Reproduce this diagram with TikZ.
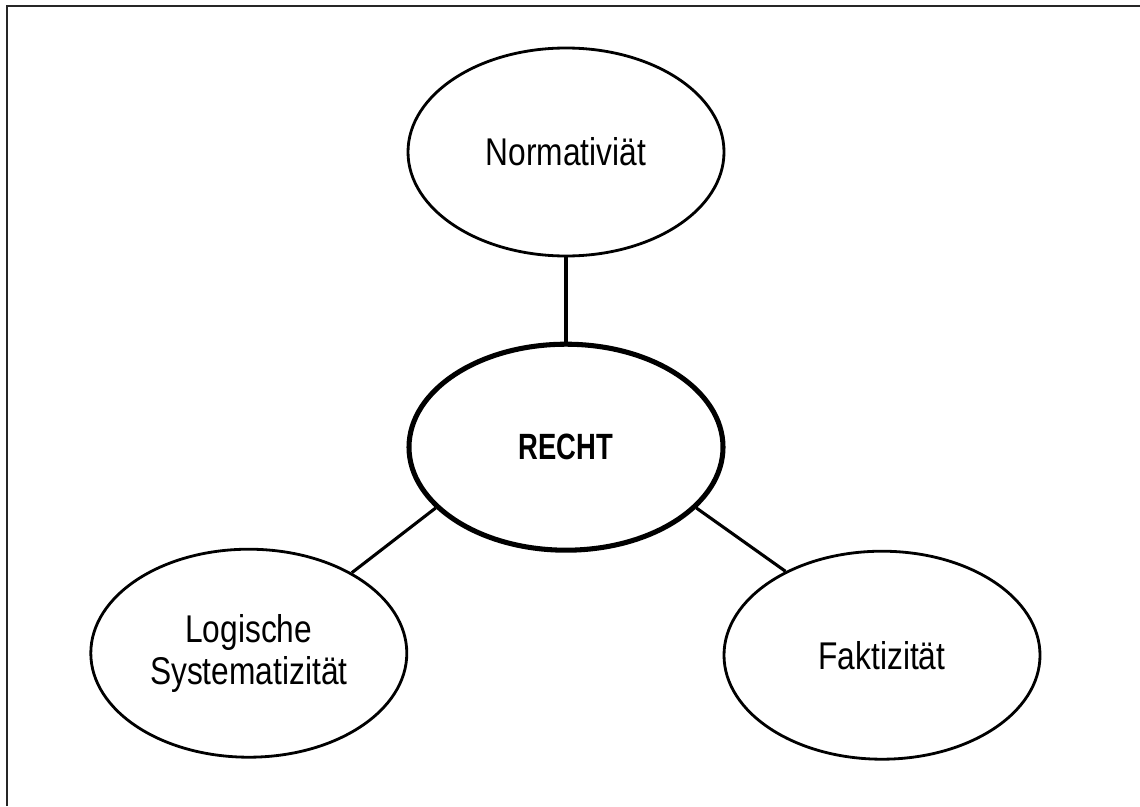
\documentclass[tikz,border=0pt]{standalone}
\usepackage{fontspec}
\setmainfont{Liberation Sans}[FakeStretch=0.82, BoldFeatures={FakeStretch=0.75}]
\usetikzlibrary{shapes.geometric}

\begin{document}
\begin{tikzpicture}[
    topic/.style={ellipse, draw, line width=2pt, minimum width=7.9cm, minimum height=5.2cm,
        inner sep=0pt, align=center, font=\fontsize{27.5}{30}\selectfont},
    core/.style={ellipse, draw, line width=3.6pt, minimum width=7.85cm, minimum height=5.15cm,
        inner sep=0pt, font=\fontsize{26}{30}\selectfont\bfseries},
    link/.style={line width=2.2pt}
]
    %% define points
    \def\W{28.5};
    \def\H{20.15};
    \def\Mx{14.15};
    
    %% frame
    \useasboundingbox (0,0) rectangle (\W,-\H);
    \draw[line width=2.1pt, black!85] (0.175,-\H) -- (0.175,-0.15) -- (\W,-0.15);
    
    %% ellipses
    \node[topic] (norm) at (\Mx,-3.8) {Normativiät};
    \node[core] (recht) at (\Mx,-11.18) {RECHT};
    \node[topic] (logik) at (6.22,-16.33) {Logische\\Systematizität};
    \node[topic] (fakt) at (22.05,-16.38) {Faktizität};
    
    %% connectors
    \draw[link] (norm.south) -- (recht.north);
    \draw[link] (recht.205.7) -- (logik.38.7);
    \draw[link] (recht.335) -- (fakt.139);
\end{tikzpicture}
\end{document}
